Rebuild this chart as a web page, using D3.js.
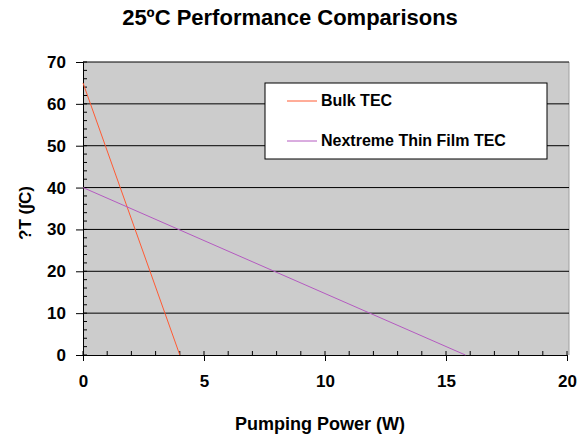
<!DOCTYPE html>
<html lang="en">
<head>
<meta charset="utf-8">
<script src="https://d3js.org/d3.v7.min.js"></script>
<style>
  body { margin: 0; background: #fff; }
  text { font-family: "Liberation Sans", Arial, sans-serif; font-weight: bold; fill: #000; }
</style>
</head>
<body>
<script>
// the data
var seriesNames = ["Bulk TEC", "Nextreme Thin Film TEC"];
var seriesColours = ["#ff5a33", "#b45ac0"];
var bulkPower = [0, 4];
var bulkDeltaT = [65, 0];
var thinPower = [0, 15.8];
var thinDeltaT = [40, 0];
var xTicks = [0, 5, 10, 15, 20];
var yTicks = [0, 10, 20, 30, 40, 50, 60, 70];

var width = 577, height = 439;

var svg = d3.select("body").append("svg")
            .attr("width", width)
            .attr("height", height);

var x = d3.scaleLinear().domain([0, 20]).range([83, 567]);
var y = d3.scaleLinear().domain([0, 70]).range([355, 62]);

// plot area
svg.append("rect")
   .attr("x", x(0)).attr("y", y(70))
   .attr("width", 569 - x(0)).attr("height", y(0) - y(70))
   .attr("fill", "#cccccc");
svg.append("line")
   .attr("x1", 569).attr("x2", 569).attr("y1", y(70)).attr("y2", y(0))
   .attr("stroke", "#a0a0a0");

// grid lines
svg.selectAll(".grid").data(yTicks.slice(1)).enter().append("line")
   .attr("x1", x(0)).attr("x2", 569)
   .attr("y1", d => y(d)).attr("y2", d => y(d))
   .attr("stroke", "#000").attr("stroke-width", 1);

// minor ticks (inside)
var yMinor = d3.range(0, 71, 2);
svg.selectAll(".ymin").data(yMinor).enter().append("line")
   .attr("x1", x(0)).attr("x2", x(0) + 4)
   .attr("y1", d => y(d)).attr("y2", d => y(d))
   .attr("stroke", "#000");
var xMinor = d3.range(0, 21, 1);
svg.selectAll(".xmin").data(xMinor).enter().append("line")
   .attr("x1", d => x(d)).attr("x2", d => x(d))
   .attr("y1", y(0)).attr("y2", y(0) - 4)
   .attr("stroke", "#000");

// axes
svg.append("g").attr("transform", "translate(0," + y(0) + ")")
   .call(d3.axisBottom(x).tickValues(xTicks).tickSize(6).tickPadding(14))
   .call(g => g.select(".domain").attr("stroke", "#000"))
   .call(g => g.selectAll("text").style("font-size", "17px").attr("fill", "#000"));
svg.append("g").attr("transform", "translate(" + x(0) + ",0)")
   .call(d3.axisLeft(y).tickValues(yTicks).tickSize(7).tickPadding(10))
   .call(g => g.select(".domain").attr("stroke", "#000"))
   .call(g => g.selectAll("text").style("font-size", "17px").attr("fill", "#000"));

// the lines
var line = d3.line().x(d => x(d[0])).y(d => y(d[1]));
var series = [d3.zip(bulkPower, bulkDeltaT), d3.zip(thinPower, thinDeltaT)];
svg.selectAll(".series").data(series).enter().append("path")
   .attr("d", line)
   .attr("fill", "none")
   .attr("stroke", (d, i) => seriesColours[i])
   .attr("stroke-width", 1);

// legend
var legend = svg.append("g").attr("transform", "translate(265,83)");
legend.append("rect").attr("width", 282).attr("height", 76)
      .attr("fill", "#fff").attr("stroke", "#000");
seriesNames.forEach(function(name, i) {
    var ly = 18 + i * 40;
    legend.append("line").attr("x1", 22).attr("x2", 52)
          .attr("y1", ly).attr("y2", ly)
          .attr("stroke", seriesColours[i]);
    legend.append("text").attr("x", 56).attr("y", ly + 5)
          .style("font-size", "16px").text(name);
});

// titles
svg.append("text").attr("x", 290).attr("y", 25).attr("text-anchor", "middle")
   .style("font-size", "22px").text("25ºC Performance Comparisons");
svg.append("text").attr("x", 320).attr("y", 430).attr("text-anchor", "middle")
   .style("font-size", "18px").text("Pumping Power (W)");
svg.append("text").attr("transform", "translate(31,213) rotate(-90)")
   .attr("text-anchor", "middle")
   .style("font-size", "17px").text("?T (∫C)");
</script>
</body>
</html>
